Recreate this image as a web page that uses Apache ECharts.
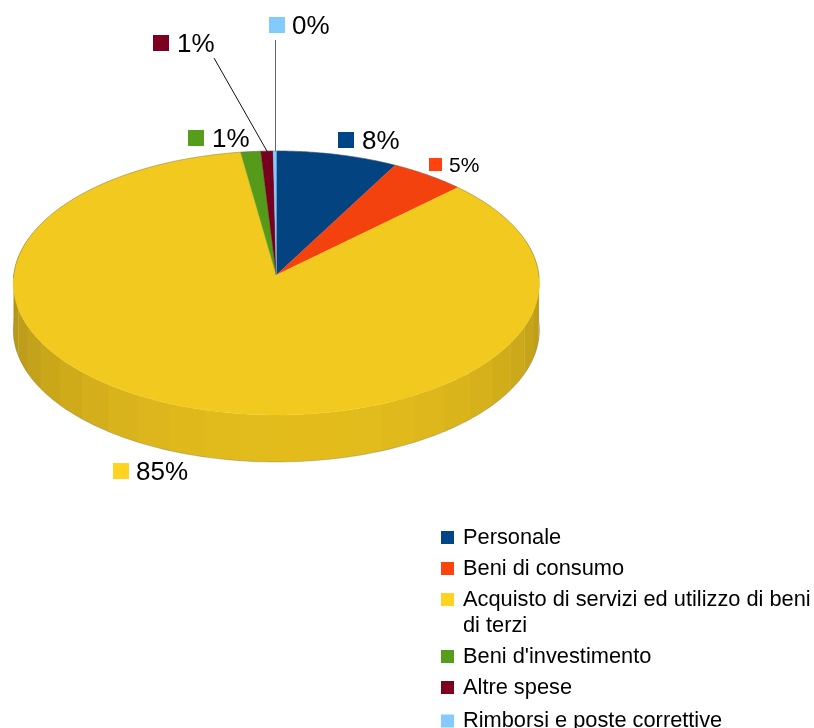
<!DOCTYPE html>
<html><head><meta charset="utf-8">
<style>html,body{margin:0;padding:0;background:#fff}#c{width:814px;height:728px}</style>
<script src="https://cdn.jsdelivr.net/npm/echarts@6/dist/echarts.min.js"></script>
</head><body><div id="c"></div>
<script>
const categories = ['Personale','Beni di consumo','Acquisto di servizi ed utilizzo di beni di terzi',"Beni d'investimento",'Altre spese','Rimborsi e poste correttive'];
const values = [7.9,4.9,84.9,1.3,0.8,0.2];
const percentLabels = ['8%','5%','85%','1%','1%','0%'];
const legendColors = ['#004586','#ff420e','#ffd320','#579d1c','#7e0021','#83caff'];
const faceColors = ['#03437f','#f4420e','#f2c91e','#569a1c','#78001f','#83caff'];

// Drawing layout, separate from the data
const labelBoxes = [
  {ix:338,iy:132,size:16,tx:362,ty:141.5,font:26},
  {ix:429,iy:158,size:13,tx:449,ty:166,font:21},
  {ix:113,iy:463,size:16,tx:136,ty:472.5,font:26},
  {ix:188,iy:130,size:16,tx:212,ty:139.5,font:26},
  {ix:153,iy:35,size:16,tx:177,ty:44.5,font:26},
  {ix:269,iy:17,size:16,tx:292,ty:26.5,font:26}
];
const leaders = {4:{x:214,y:58,color:'#111',vertical:false},5:{x:275.5,y:40,color:'#666',vertical:true}};
const apex = {x:276.3,y:275}, A = 262.6, B = 131.5, K = 0.0606, DEPTH = 47;
const FONT = '"Liberation Sans", Arial, sans-serif';

const total = values.reduce((a,b)=>a+b,0);
function rim(t){ const u=Math.sin(t), v=Math.cos(t), w=1+K*v;
  return [apex.x+A*u/w, apex.y-B*v/w]; }
function sliceRange(i){ let s=0; for(let k=0;k<i;k++) s+=values[k];
  return [s/total*2*Math.PI,(s+values[i])/total*2*Math.PI]; }
function shade(t){ // side wall lighting, brightest slightly right of front
  const f = 0.70 + 0.19*Math.max(0,Math.cos(t-Math.PI*0.97));
  const c=[255,211,32].map(x=>Math.round(x*f)); return `rgb(${c[0]},${c[1]},${c[2]})`; }
function flush(list,children,stroke){
  let run=[];
  list.forEach(p=>{ if(p){run.push(p);} else { if(run.length>1) children.push({type:'polyline',shape:{points:run},style:{fill:null,stroke,lineWidth:0.7}}); run=[]; }});
  if(run.length>1) children.push({type:'polyline',shape:{points:run},style:{fill:null,stroke,lineWidth:0.7}});
}
function renderSlice(i){ return function(params,api){
  const [a,b]=sliceRange(i), children=[];
  // side wall strips
  const step=Math.PI/24;
  const sa=Math.ceil(a/step)*step;
  const edges=[a]; for(let t=sa;t<b;t+=step) edges.push(t); edges.push(b);
  for(let k=0;k<edges.length-1;k++){
    const t=edges[k], e=edges[k+1];
    if(Math.cos(t)>0.15&&Math.cos(e)>0.15) continue;
    const pts=[],n=6;
    for(let j=0;j<=n;j++) pts.push(rim(t+(e-t+0.004)*j/n));
    for(let j=n;j>=0;j--){const p=rim(t+(e-t+0.004)*j/n); pts.push([p[0],p[1]+DEPTH]);}
    children.push({type:'polygon',shape:{points:pts},style:{fill:shade((t+e)/2)}});
  }
  // top face
  const top=[[apex.x,apex.y]], n=Math.max(2,Math.ceil((b-a)/0.01));
  for(let j=0;j<=n;j++) top.push(rim(a+(b-a)*j/n));
  children.push({type:'polygon',shape:{points:top},style:{fill:faceColors[i],stroke:faceColors[i],lineWidth:0.4}});
  // thin silhouette
  const back=[],lower=[];
  for(let j=0;j<=n;j++){const t=a+(b-a)*j/n; const p=rim(t);
    back.push(Math.cos(t)>=-0.03?p:null);
    lower.push(Math.cos(t)<=0.03?[p[0],p[1]+DEPTH]:null);}
  flush(back,children,'rgba(90,90,90,0.5)');
  flush(lower,children,'rgba(90,90,90,0.4)');
  // leader line
  if(leaders[i]){const p=rim((a+b)/2),l=leaders[i];
    children.push({type:'line',shape:{x1:l.x,y1:l.y,x2:l.vertical?l.x:p[0],y2:p[1]},style:{stroke:l.color,lineWidth:1}});}
  // data label
  const L=labelBoxes[i];
  children.push({type:'rect',shape:{x:L.ix,y:L.iy,width:L.size,height:L.size},style:{fill:legendColors[i]}});
  children.push({type:'text',style:{x:L.tx,y:L.ty,text:percentLabels[i],font:`${L.font}px ${FONT}`,fill:'#000',textVerticalAlign:'middle',textAlign:'left'}});
  return {type:'group',children};
};}

const legendBase = {orient:'vertical',left:441,padding:0,itemWidth:13,itemHeight:13,itemGap:2,icon:'rect',selectedMode:false,
  textStyle:{fontFamily:FONT,fontSize:21.8,lineHeight:26,color:'#000',padding:[3,0,0,4]}};
const firstLine = 'Acquisto di servizi ed utilizzo di beni';
const chart = echarts.init(document.getElementById('c'),null,{renderer:'canvas'});
chart.setOption({
  animation:false,
  backgroundColor:'#fff',
  tooltip:{show:false},
  legend:[
    Object.assign({},legendBase,{top:523,data:categories.slice(0,3),
      formatter:n=>n.startsWith(firstLine)?firstLine:n}),
    Object.assign({},legendBase,{top:642,data:categories.slice(3,5)}),
    Object.assign({},legendBase,{top:710,height:16,data:categories.slice(5),
      textStyle:Object.assign({},legendBase.textStyle,{lineHeight:16,padding:[0,0,0,4]})})
  ],
  graphic:[{type:'text',left:463,top:613,style:{text:'di terzi',font:`21.8px ${FONT}`,fill:'#000',lineHeight:26}}],
  series:categories.map((name,i)=>({
    type:'custom',name,coordinateSystem:'none',silent:true,
    itemStyle:{color:legendColors[i]},
    data:[[values[i]]],renderItem:renderSlice(i)
  }))
});
</script></body></html>
